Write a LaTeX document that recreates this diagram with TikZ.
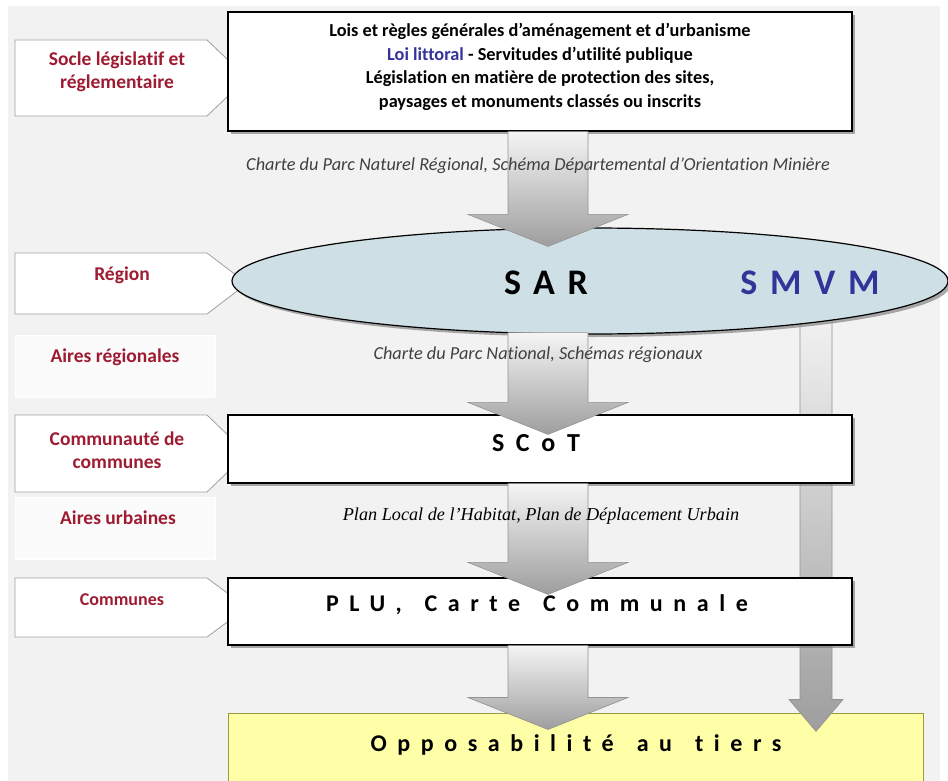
\documentclass[tikz,border=0pt]{standalone}
\usepackage{fontspec}
\setmainfont{Carlito}[Ligatures=NoCommon]
\newfontfamily\timesfont{Liberation Serif}
\usetikzlibrary{shapes.geometric,shadows,calc}

\definecolor{panelgray}{RGB}{242,242,242}
\definecolor{labelred}{RGB}{158,27,50}
\definecolor{lawblue}{RGB}{51,51,153}
\definecolor{ellipseblue}{RGB}{206,224,230}
\definecolor{tiersyellow}{RGB}{255,255,168}
\definecolor{tiersolive}{RGB}{156,156,60}
\definecolor{notegray}{RGB}{64,64,64}

% pointed tab on the left, #1 = top, #2 = bottom
\newcommand{\tabshape}[2]{%
  \filldraw[tab] (15,#1) -- (207,#1) -- (247,{(#1+#2)/2}) -- (207,#2) -- (15,#2) -- cycle;}

% fat shaded arrow, #1 = start of shaft, #2 = tip
\newcommand{\bigarrow}[2]{%
  \path[arrowshade] let \p1=(#1), \p2=(#2) in
    (\x2-40pt,\y1) -- (\x2-40pt,\y2+32pt) -- (\x2-80pt,\y2+32pt) -- (\x2,\y2)
    -- (\x2+80pt,\y2+32pt) -- (\x2+40pt,\y2+32pt) -- (\x2+40pt,\y1) -- cycle;}

% narrow one on the right
\newcommand{\thinarrow}[2]{%
  \path[arrowshade] let \p1=(#1), \p2=(#2) in
    (\x2-16pt,\y1) -- (\x2-16pt,\y2+32pt) -- (\x2-27pt,\y2+32pt) -- (\x2,\y2)
    -- (\x2+27pt,\y2+32pt) -- (\x2+16pt,\y2+32pt) -- (\x2+16pt,\y1) -- cycle;}

\newcommand{\wordgap}{\hspace{7pt} }

\tikzset{
  tab/.style={draw=gray!75, fill=white, line width=0.8pt},
  airesbox/.style={draw=white, fill=gray!3, line width=1pt},
  tabtext/.style={font=\bfseries\fontsize{19.5}{23}\selectfont, text=labelred, align=center},
  mainbox/.style={draw=black, line width=1.2pt, fill=white, minimum width=624pt,
    drop shadow={shadow xshift=3pt, shadow yshift=-3pt, fill=black!55, opacity=0.6}},
  arrowshade/.style={draw=gray!85, line width=0.6pt, top color=white!96!black, bottom color=black!38},
  lawtext/.style={font=\bfseries\fontsize{18.3}{23.5}\selectfont, align=center},
  note/.style={font=\itshape\fontsize{18.3}{18}\selectfont, text=notegray},
  bigtext/.style={font=\bfseries\fontsize{36}{36}\selectfont\addfontfeature{LetterSpace=35}},
  midtext/.style={font=\bfseries\fontsize{26}{26}\selectfont\addfontfeature{LetterSpace=45}},
  widetext/.style={font=\bfseries\fontsize{24}{24}\selectfont\addfontfeature{LetterSpace=44}}
}

\begin{document}
\begin{tikzpicture}[x=1pt,y=-1pt]
  \useasboundingbox (0,0) rectangle (948,781);
  \fill[panelgray] (8,6) rectangle (940,781);

  % left column
  \tabshape{40}{116}
  \tabshape{253}{314}
  \tabshape{415}{492}
  \tabshape{578}{637}
  \filldraw[airesbox] (15,335) rectangle (215,397);
  \filldraw[airesbox] (15,497) rectangle (215,559);
  \node[tabtext] (socle) at (117,72) {Socle législatif et\\réglementaire};
  \node[tabtext] (regionlbl) at (122,275) {Région};
  \node[tabtext] (airesreg) at (115,357) {Aires régionales};
  \node[tabtext] (communaute) at (117,450) {Communauté de\\communes};
  \node[tabtext] (airesurb) at (118,518) {Aires urbaines};
  \node[tabtext, font=\bfseries\fontsize{18}{18}\selectfont] (communes) at (122,600) {Communes};

  % main column
  \node[draw=tiersolive, line width=1pt, fill=tiersyellow, minimum width=695pt, minimum height=72pt] (tiers) at (575.5,749) {};
  \coordinate (axis) at (548,0);
  \coordinate (sideaxis) at (816,0);
  \thinarrow{$(sideaxis)+(0,300)$}{$(tiers.north -| sideaxis)+(0,19)$}
  \node[ellipse, draw=black, line width=1.2pt, fill=ellipseblue, minimum width=716pt, minimum height=106pt,
    drop shadow={shadow xshift=3pt, shadow yshift=-3pt, fill=black!55, opacity=0.6}] (region) at (590,281) {};
  \node[mainbox, minimum height=119pt] (lawbox) at (540,71.5) {};
  \node[mainbox, minimum height=68pt] (scot) at (540,449) {};
  \node[mainbox, minimum height=67pt] (plu) at (540,611.5) {};

  \bigarrow{lawbox.south -| axis}{$(region.north -| axis)+(0,19)$}
  \bigarrow{$(region.south -| axis)+(0,-2)$}{$(scot.north -| axis)+(0,20)$}
  \bigarrow{scot.south -| axis}{$(plu.north -| axis)+(0,17)$}
  \bigarrow{plu.south -| axis}{$(tiers.north -| axis)+(0,17)$}

  % texts
  \node[lawtext] (lawlines) at (540,67) {Lois et règles générales d’aménagement et d’urbanisme\\
    \textcolor{lawblue}{Loi littoral} - Servitudes d’utilité publique\\
    Législation en matière de protection des sites,\\
    paysages et monuments classés ou inscrits};
  \node[note] (note1) at (538,166) {Charte du Parc Naturel Régional, Schéma Départemental d’Orientation Minière};
  \node[note] (note2) at (538,355) {Charte du Parc National, Schémas régionaux};
  \node[font=\timesfont\itshape\fontsize{18.2}{18}\selectfont] (note3) at (541,516) {Plan Local de l’Habitat, Plan de Déplacement Urbain};
  \node[bigtext] (sar) at (546,283) {SAR};
  \node[bigtext, text=lawblue] (smvm) at (810,283) {SMVM};
  \node[midtext] (scotname) at (536,443) {SCoT};
  \node[widetext] (pluname) at (537,605) {PLU,\wordgap Carte\wordgap Communale};
  \node[widetext] (tiersname) at (576,745) {Opposabilité\wordgap au\wordgap tiers};
\end{tikzpicture}
\end{document}
